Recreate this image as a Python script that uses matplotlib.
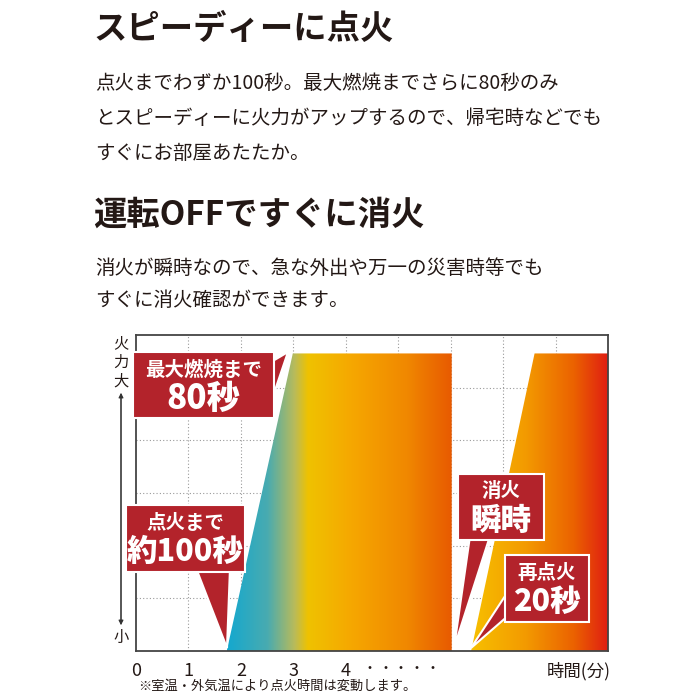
import matplotlib
matplotlib.use("Agg")
import matplotlib.pyplot as plt
import numpy as np
from matplotlib.patches import Polygon
from matplotlib.colors import LinearSegmentedColormap

plt.rcParams['font.family'] = ['Noto Sans CJK JP', 'DejaVu Sans']

# data (minutes, fire level)
burn1_x = [1.73, 2.99, 6.02, 6.02]
burn1_y = [0, 5.65, 5.65, 0]
burn2_x = [6.39, 7.6, 9.0, 9.0]
burn2_y = [0, 5.65, 5.65, 0]
xticks = [0, 1, 2, 3, 4]
dots_x = [4.45, 4.75, 5.05, 5.35, 5.65]

RED = '#b3232b'
TXT = '#231815'
fig = plt.figure(figsize=(7, 7), dpi=100)
ov = fig.add_axes([0, 0, 1, 1], zorder=5)
ov.set_xlim(0, 700); ov.set_ylim(700, 0); ov.axis('off')

ov.text(93, 30, "スピーディーに点火", fontsize=24, fontweight='bold', va='center', color=TXT)
body1 = ["点火までわずか100秒。最大燃焼までさらに80秒のみ",
         "とスピーディーに火力がアップするので、帰宅時などでも",
         "すぐにお部屋あたたか。"]
for i, t in enumerate(body1):
    ov.text(95, 83 + 35 * i, t, fontsize=14, va='center', color=TXT)
ov.text(93, 215, "運転OFFですぐに消火", fontsize=24, fontweight='bold', va='center', color=TXT)
body2 = ["消火が瞬時なので、急な外出や万一の災害時等でも",
         "すぐに消火確認ができます。"]
for i, t in enumerate(body2):
    ov.text(95, 268 + 33 * i, t, fontsize=14, va='center', color=TXT)

ax = fig.add_axes([136/700, 49/700, 472/700, 316/700], zorder=1)
ax.set_xlim(0, 9); ax.set_ylim(0, 6)
for v in range(1, 9):
    ax.axvline(v, color='#999999', ls=(0, (1, 2)), lw=0.8, zorder=0)
for v in range(1, 6):
    ax.axhline(v, color='#999999', ls=(0, (1, 2)), lw=0.8, zorder=0)
for s in ['top', 'right', 'left', 'bottom']:
    ax.spines[s].set_color('#444444'); ax.spines[s].set_linewidth(1.3)
ax.set_xticks([]); ax.set_yticks([])

cm1 = LinearSegmentedColormap.from_list('c1', [(0, '#14a8cf'), (0.18, '#49abb0'), (0.3, '#b9bb5a'),
                                                (0.36, '#efc200'), (0.55, '#f6a800'), (0.8, '#f08800'), (1, '#e85a00')])
cm2 = LinearSegmentedColormap.from_list('c2', [(0, '#f7c000'), (0.4, '#f39a00'), (0.75, '#eb6200'), (1, '#e01e12')])
for xs, ys, cm in [(burn1_x, burn1_y, cm1), (burn2_x, burn2_y, cm2)]:
    grad = np.linspace(0, 1, 256)[None, :]
    x0, x1 = min(xs), max(xs)
    im = ax.imshow(grad, cmap=cm, aspect='auto', extent=[x0, x1, 0, max(ys)], zorder=2)
    poly = Polygon(list(zip(xs, ys)), closed=True, transform=ax.transData, fc='none', ec='none')
    ax.add_patch(poly)
    im.set_clip_path(poly)
ax.set_xlim(0, 9); ax.set_ylim(0, 6)

for t in xticks:
    ax.text(t, -0.2, str(t), ha='center', va='top', fontsize=13, color=TXT, clip_on=False)
for d in dots_x:
    ax.text(d, -0.2, '・', ha='center', va='top', fontsize=10, color=TXT, clip_on=False)
ax.text(9.05, -0.2, '時間(分)', ha='right', va='top', fontsize=12.5, color=TXT, clip_on=False)

ov.text(121, 344, '火', fontsize=11, ha='center', va='center', color=TXT)
ov.text(121, 362, '力', fontsize=11, ha='center', va='center', color=TXT)
ov.text(121, 381, '大', fontsize=11, ha='center', va='center', color=TXT)
ov.annotate('', xy=(121, 390), xytext=(121, 625), arrowprops=dict(arrowstyle='-|>', color='#333', lw=0.8, mutation_scale=7))
ov.annotate('', xy=(121, 628), xytext=(121, 392), arrowprops=dict(arrowstyle='-|>', color='#333', lw=0.8, mutation_scale=7))
ov.text(121, 637, '小', fontsize=11, ha='center', va='center', color=TXT)
ov.text(138, 686, '※室温・外気温により点火時間は変動します。', fontsize=9.5, va='center', color=TXT)

def callout(x0, y0, x1, y1, tri, l1, l2, f1, f2):
    ov.add_patch(Polygon(tri, closed=True, fc=RED, ec='white', lw=1.5, zorder=6))
    ov.add_patch(Polygon([(x0, y0), (x1, y0), (x1, y1), (x0, y1)], closed=True, fc=RED, ec='white', lw=1.5, zorder=7))
    ov.add_patch(Polygon([(x0+2, y0+2), (x1-2, y0+2), (x1-2, y1-2), (x0+2, y1-2)], closed=True, fc=RED, ec='none', zorder=8))
    cx = (x0 + x1) / 2
    ov.text(cx, y0 + (y1 - y0) * 0.27, l1, fontsize=f1, color='white', ha='center', va='center', fontweight='bold', zorder=9)
    ov.text(cx, y0 + (y1 - y0) * 0.7, l2, fontsize=f2, color='white', ha='center', va='center', fontweight='black', zorder=9)

callout(133, 352, 274, 418, [(266, 365), (288, 352), (270, 405)], '最大燃焼まで', '80秒', 14, 24)
callout(126, 505, 245, 572, [(196, 568), (227, 648), (230, 568)], '点火まで', '約100秒', 14, 22)
callout(458, 474, 544, 540, [(470, 536), (454, 648), (490, 536)], '消火', '瞬時', 14, 22)
callout(505, 555, 589, 622, [(509, 590), (471, 648), (509, 615)], '再点火', '20秒', 14, 22)

fig.savefig('out.png', dpi=100)
